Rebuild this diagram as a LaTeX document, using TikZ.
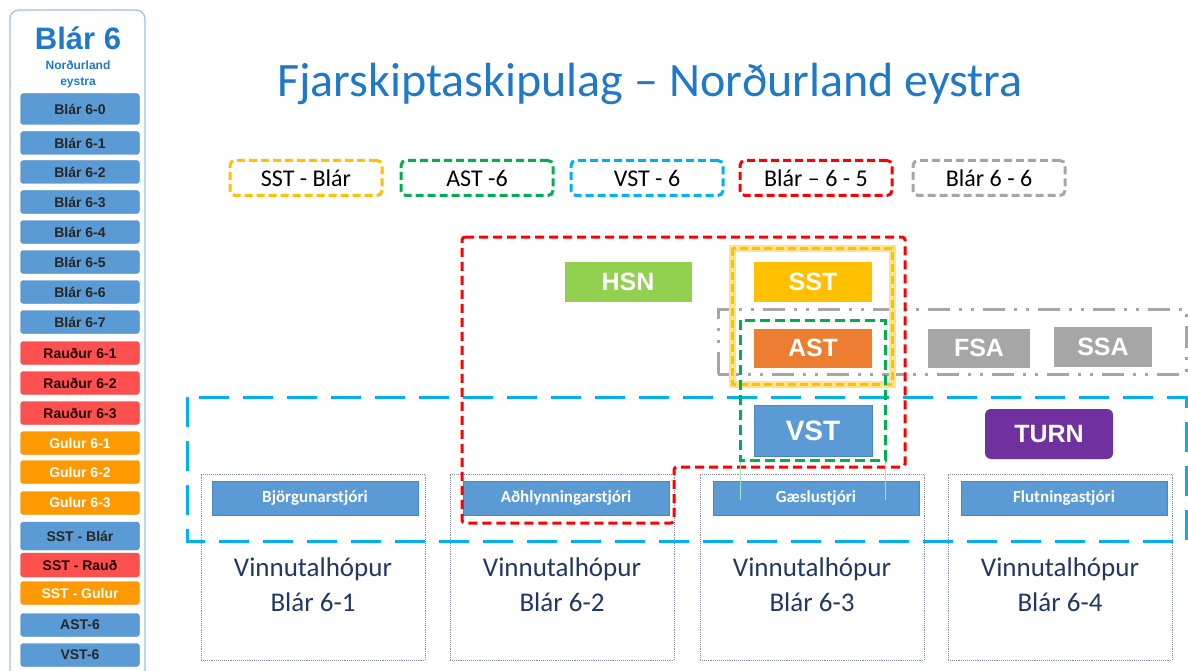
\documentclass[tikz,border=0pt]{standalone}
\usepackage{fontspec}
\setmainfont{Carlito}
\newfontfamily\arialfont{Liberation Sans}
\definecolor{sideblue}{HTML}{9DC3E6}
\definecolor{titleblue}{HTML}{1F78C8}
\definecolor{btnblue}{HTML}{5B9BD5}
\definecolor{btnblueb}{HTML}{4A86C0}
\definecolor{btnred}{HTML}{FF5050}
\definecolor{btnorange}{HTML}{FF9900}
\definecolor{lgorange}{HTML}{FFC000}
\definecolor{lggreen}{HTML}{00B050}
\definecolor{lgblue}{HTML}{00B0F0}
\definecolor{lgred}{HTML}{FF0000}
\definecolor{lggray}{HTML}{A6A6A6}
\definecolor{hsngreen}{HTML}{92D050}
\definecolor{astorange}{HTML}{ED7D31}
\definecolor{turnpurple}{HTML}{7030A0}
\definecolor{navy}{HTML}{203864}
\definecolor{boxline}{HTML}{7F8CA3}
\tikzset{
  sbtn/.style={rounded corners=3pt, minimum width=119pt, minimum height=23pt, inner sep=0pt,
    font=\arialfont\bfseries\fontsize{14}{14}\selectfont},
  sblue/.style={sbtn, fill=btnblue, draw=btnblue!90!black, line width=0.4pt, text=black!85},
  sred/.style={sbtn, fill=btnred, draw=btnred!90!black, line width=0.4pt, text=black!85!red},
  sorange/.style={sbtn, fill=btnorange, draw=btnorange!95!black, line width=0.4pt, text=white},
  legbox/.style={rounded corners=5pt, line width=3pt, dash pattern=on 8pt off 4pt,
    minimum width=152pt, minimum height=35pt, inner sep=0pt, font=\fontsize{24}{24}\selectfont},
  rolebox/.style={minimum width=118pt, minimum height=40pt, inner sep=0pt, text=white,
    font=\arialfont\bfseries\fontsize{25}{25}\selectfont},
  groupbox/.style={draw=boxline, densely dotted, line width=0.9pt, minimum width=224pt,
    minimum height=186pt, inner sep=0pt},
  barbox/.style={fill=btnblue, draw=btnblueb, line width=0.5pt, minimum width=206pt,
    minimum height=34pt, inner sep=0pt, text=white, font=\bfseries\fontsize{17}{17}\selectfont},
  grouptext/.style={align=center, text=navy, font=\fontsize{27}{35}\selectfont},
}
\begin{document}
\begin{tikzpicture}[x=1pt,y=-1pt]
\useasboundingbox (0,0) rectangle (1188,671);
\fill[white] (0,0) rectangle (1188,671);
% sidebar
\draw[sideblue, line width=1.3pt, rounded corners=9pt] (10,700) -- (10,10) -- (145,10) -- (145,700);
\node[text=titleblue, font=\arialfont\bfseries\fontsize{31}{31}\selectfont] (sbtitle) at (78,38) {Blár 6};
\node[text=titleblue, align=center, font=\arialfont\bfseries\fontsize{12}{16}\selectfont] (sbsub) at (78,74) {Norðurland\\eystra};
\node[sblue, minimum height=31pt] (b60) at (80,109) {Blár 6-0};
\node[sblue] (b61) at (80,143) {Blár 6-1};
\node[sblue] (b62) at (80,172) {Blár 6-2};
\node[sblue] (b63) at (80,202) {Blár 6-3};
\node[sblue] (b64) at (80,232) {Blár 6-4};
\node[sblue] (b65) at (80,262) {Blár 6-5};
\node[sblue] (b66) at (80,292) {Blár 6-6};
\node[sblue] (b67) at (80,322) {Blár 6-7};
\node[sred] (r61) at (80,353) {Rauður 6-1};
\node[sred] (r62) at (80,383) {Rauður 6-2};
\node[sred] (r63) at (80,413) {Rauður 6-3};
\node[sorange] (g61) at (80,443) {Gulur 6-1};
\node[sorange] (g62) at (80,472) {Gulur 6-2};
\node[sorange] (g63) at (80,503) {Gulur 6-3};
\node[sblue, minimum height=28pt] (sstb) at (80,536) {SST - Blár};
\node[sred, minimum height=24pt] (sstr) at (80,565) {SST - Rauð};
\node[sorange] (sstg) at (80,593) {SST - Gulur};
\node[sblue] (ast6) at (80,625) {AST-6};
\node[sblue] (vst6) at (80,655) {VST-6};
% title
\node[text=titleblue, font=\fontsize{48}{48}\selectfont] (title) at (650,84) {Fjarskiptaskipulag – Norðurland eystra};
% legend
\node[legbox, draw=lgorange] (l1) at (306,178) {SST - Blár};
\node[legbox, draw=lggreen] (l2) at (477,178) {AST -6};
\node[legbox, draw=lgblue] (l3) at (647,178) {VST - 6};
\node[legbox, draw=lgred] (l4) at (816,178) {Blár – 6 - 5};
\node[legbox, draw=lggray] (l5) at (989,178) {Blár 6 - 6};
% group boxes
\node[groupbox] (g1) at (313,567) {};
\node[groupbox] (g2) at (562,567) {};
\node[groupbox] (g3) at (812,567) {};
\node[groupbox] (g4) at (1060,567) {};
\node[barbox] (bar1) at (315,498) {Björgunarstjóri};
\node[barbox] (bar2) at (566,498) {Aðhlynningarstjóri};
\node[barbox] (bar3) at (816,498) {Gæslustjóri};
\node[barbox] (bar4) at (1064,498) {Flutningastjóri};
\node[grouptext] (t1) at (313,585) {Vinnutalhópur\\Blár 6-1};
\node[grouptext] (t2) at (562,585) {Vinnutalhópur\\Blár 6-2};
\node[grouptext] (t3) at (812,585) {Vinnutalhópur\\Blár 6-3};
\node[grouptext] (t4) at (1060,585) {Vinnutalhópur\\Blár 6-4};
% role boxes
\node[rolebox, fill=hsngreen, minimum width=127pt] (hsn) at (628,282) {HSN};
\node[rolebox, fill=lgorange] (sst) at (813,282) {SST};
\node[rolebox, fill=astorange, minimum height=39pt] (ast) at (813,348) {AST};
\node[rolebox, fill=btnblue, draw=btnblueb, line width=0.5pt, minimum height=51pt, font=\arialfont\bfseries\fontsize{28}{28}\selectfont] (vst) at (813,431) {VST};
\node[rolebox, fill=lggray, minimum width=102pt, minimum height=39pt] (fsa) at (979,348) {FSA};
\node[rolebox, fill=lggray, minimum width=98pt, minimum height=40pt] (ssa) at (1103,347) {SSA};
\node[rolebox, fill=turnpurple, rounded corners=6pt, minimum width=128pt, minimum height=50pt] (turn) at (1049,434) {TURN};
% dashed groupings
\draw[lgblue, line width=3pt, dash pattern=on 30pt off 14pt] (187,397) rectangle (1186,541);
\draw[lggray, line width=3pt, dash pattern=on 22pt off 9pt on 3pt off 9pt on 3pt off 9pt] (718,374) -- (718,309) -- (1186,309) -- (1186,374) -- cycle;
\draw[lgred, line width=3pt, dash pattern=on 9pt off 5pt, rounded corners=3pt] (462,237) -- (905,237) -- (905,467) -- (674,467) -- (674,523) -- (462,523) -- cycle;
\draw[lgorange!45, line width=7pt] (732,248) rectangle (892,384);
\draw[lgorange, line width=3pt, dash pattern=on 8pt off 4pt] (732,248) rectangle (892,384);
\draw[lggreen!35, line width=1pt] (740,460) -- (740,500) (885,460) -- (885,500);
\draw[lggreen, line width=3pt, dash pattern=on 10pt off 5pt] (740,320) rectangle (885,460);
\end{tikzpicture}
\end{document}
